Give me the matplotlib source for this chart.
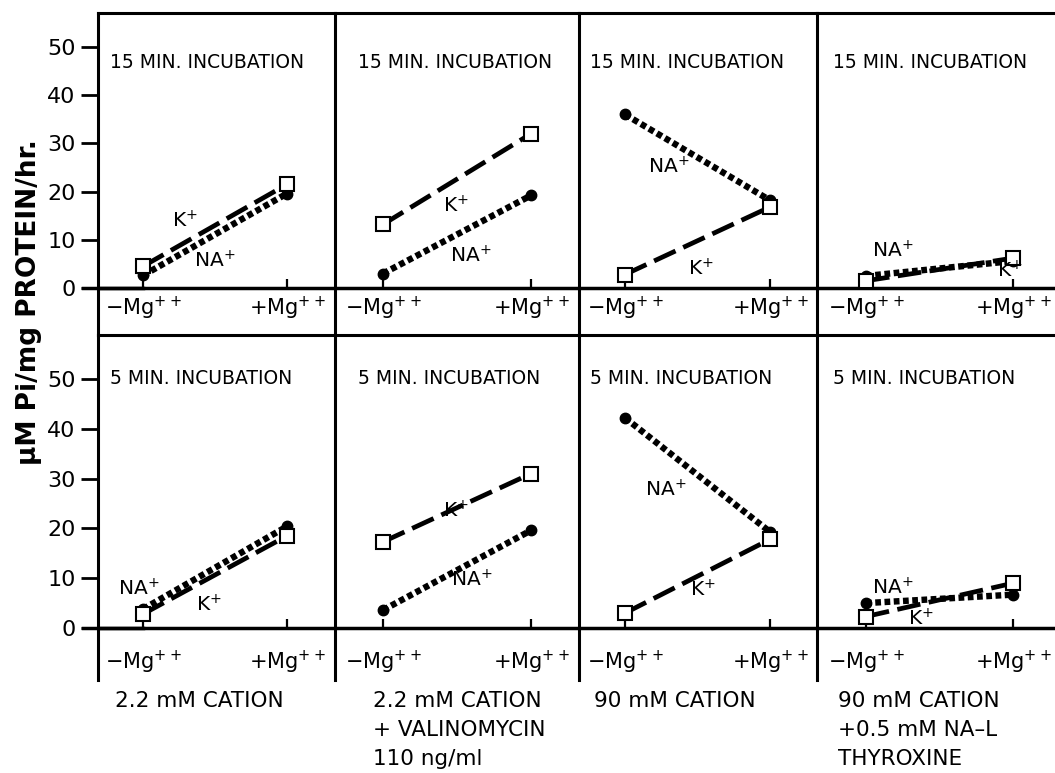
import matplotlib
matplotlib.use("Agg")
import matplotlib.pyplot as plt
import numpy as np

plt.rcParams['font.family'] = ['DejaVu Sans']

# ---------------- data ----------------
conditions = ["-Mg", "+Mg"]
x_labels = [r"$\mathregular{-Mg^{++}}$", r"$\mathregular{+Mg^{++}}$"]
row_titles = ["15 MIN. INCUBATION", "5 MIN. INCUBATION"]
column_labels = ["2.2 mM CATION",
                 "2.2 mM CATION\n+ VALINOMYCIN\n110 ng/ml",
                 "90 mM CATION",
                 "90 mM CATION\n+0.5 mM NA\u2013L\nTHYROXINE"]

# 15 min incubation (top row), one pair per column
k_15 = [[4.5, 21.5], [13.2, 32.0], [2.8, 16.8], [1.5, 6.2]]
na_15 = [[2.6, 19.6], [3.0, 19.2], [36.0, 18.2], [2.5, 5.6]]
# 5 min incubation (bottom row)
k_5 = [[2.8, 18.5], [17.3, 31.0], [3.0, 17.8], [2.3, 9.0]]
na_5 = [[3.8, 20.4], [3.6, 19.6], [42.2, 19.3], [5.0, 6.7]]

y_ticks = [0, 10, 20, 30, 40, 50]

# ---------------- layout (pixels) ----------------
W, H = 1055, 773
fig = plt.figure(figsize=(W / 100, H / 100), dpi=100)

col_left = [98, 335, 579, 817]
col_right = [335, 579, 817, 1055]
mg_minus_px = [143, 383, 625, 866]
mg_plus_px = [287, 531, 770, 1013]

# rows: (top px, bottom px, zero px, px per unit)
rows = [(13, 335, 288, 4.82), (335, 680, 628, 4.98)]
row_data = [(k_15, na_15), (k_5, na_5)]
xlabel_offset = [-4.2, -6.8]
title_y_px = [62, 378]
title_x_off = [12, 23, 11, 16]

# label positions (data coords) for the K+ / NA+ annotations
k_lab = [[(0.29, 13.9), (0.49, 17.0), (0.52, 3.9), (0.98, 3.6)],
         [(0.46, 4.6), (0.49, 23.5), (0.54, 7.6), (0.37, 1.8)]]
na_lab = [[(0.50, 5.6), (0.59, 6.6), (0.30, 25.1), (0.18, 7.8)],
          [(-0.03, 7.8), (0.60, 9.6), (0.28, 27.7), (0.18, 8.0)]]

xs = np.arange(len(conditions))

for r, (top, bot, zero, ppu) in enumerate(rows):
    ks, nas = row_data[r]
    for c in range(4):
        L, R = col_left[c], col_right[c]
        ax = fig.add_axes([L / W, 1 - bot / H, (R - L) / W, (bot - top) / H])
        span = mg_plus_px[c] - mg_minus_px[c]
        ax.set_xlim((L - mg_minus_px[c]) / span, (R - mg_minus_px[c]) / span)
        ax.set_ylim(-(bot - zero) / ppu, (zero - top) / ppu)
        for s in ["right", "bottom"]:
            ax.spines[s].set_visible(False)
        ax.spines["left"].set_linewidth(2.2)
        ax.spines["top"].set_linewidth(2.2)
        ax.patch.set_alpha(0)
        ax.set_xticks([])
        if c == 0:
            ax.set_yticks(y_ticks)
            ax.set_yticklabels([str(t) for t in y_ticks], fontsize=16)
            ax.tick_params(axis="y", direction="out", length=12, width=2, pad=4)
        else:
            ax.set_yticks([])
        # zero line
        ax.axhline(0, color="black", lw=2.5, zorder=2)
        if c == 0:
            ax.plot([-0.42, 0], [0, 0], color="black", lw=2.5, clip_on=False)
        # small tick marks at categories
        ax.vlines(xs, 0, 1.8, color="black", lw=1.6, zorder=2)
        # lines
        ax.plot(xs, nas[c], color="black", lw=4.6, linestyle=(0, (0.9, 0.55)),
                marker="o", markersize=7.5, markerfacecolor="black",
                markeredgecolor="black", zorder=3)
        ax.plot(xs, ks[c], color="black", lw=3.4, linestyle=(0, (5, 1.8)),
                marker="s", markersize=9.5, markerfacecolor="white",
                markeredgecolor="black", markeredgewidth=1.5, zorder=4)
        kx, ky = k_lab[r][c]
        nx, ny = na_lab[r][c]
        ax.text(kx, ky, r"$\mathregular{K^{+}}$", fontsize=14.5, ha="center", va="center", zorder=5)
        ax.text(nx, ny, r"$\mathregular{NA^{+}}$", fontsize=14.5, ha="center", va="center", zorder=5)
        for i, lab in enumerate(x_labels):
            ax.text(xs[i], xlabel_offset[r], lab, fontsize=15, ha="center", va="center")
        # title
        fig.text((L + title_x_off[c]) / W, 1 - title_y_px[r] / H, row_titles[r],
                 fontsize=13.5, ha="left", va="center")

# column descriptions below
col_text_x = [115, 373, 594, 838]
for c in range(4):
    fig.text(col_text_x[c] / W, 1 - 691 / H, column_labels[c], fontsize=15.5,
             ha="left", va="top", linespacing=1.55)

fig.text(29 / W, 1 - 302 / H, "\u00b5M Pi/mg PROTEIN/hr.", fontsize=19,
         fontweight="bold", rotation=90, ha="center", va="center")

fig.savefig("out.png", dpi=100)
